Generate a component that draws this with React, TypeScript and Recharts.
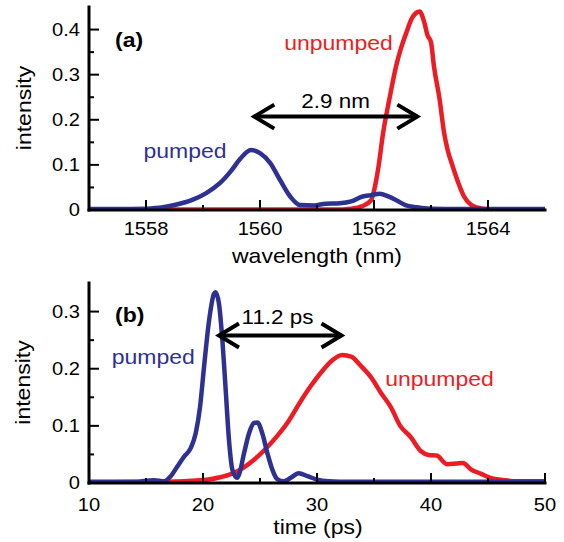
import { LineChart, Line, XAxis, YAxis, ReferenceLine } from "recharts";

const RED = "#ED1C24";
const BLUE = "#2E3192";
const FONT = "'Liberation Sans', Arial, Helvetica, sans-serif";
const SX = 1.15; // the figure's lettering is a wide sans, stretch Arial a bit

// (a) spectra, wavelength in nm
const wlUnpumped = [
    1557, 1561.3, 1561.6, 1561.8, 1561.95, 1562.04, 1562.08, 1562.16, 1562.27,
    1562.39, 1562.47, 1562.57, 1562.66, 1562.74, 1562.8, 1562.88, 1562.94,
    1563.0, 1563.05, 1563.15, 1563.23, 1563.29, 1563.38, 1563.48, 1563.58,
    1563.71, 1563.9, 1564.2, 1565,
];
const specUnpumped = [
    0.001, 0.001, 0.003, 0.009, 0.022, 0.067, 0.097, 0.171, 0.246, 0.32, 0.357,
    0.394, 0.424, 0.437, 0.44, 0.417, 0.387, 0.372, 0.32, 0.246, 0.171, 0.134,
    0.097, 0.06, 0.03, 0.011, 0.003, 0.001, 0.001,
];
const wlPumped = [
    1557, 1557.5, 1558, 1558.3, 1558.5, 1558.8, 1559.05, 1559.3, 1559.5,
    1559.65, 1559.84, 1560.0, 1560.18, 1560.35, 1560.53, 1560.7, 1560.95,
    1561.15, 1561.4, 1561.6, 1561.8, 1561.95, 1562.1, 1562.25, 1562.4, 1562.55,
    1562.75, 1563.0, 1563.5, 1564, 1565,
];
const specPumped = [
    0.002, 0.002, 0.003, 0.006, 0.011, 0.022, 0.037, 0.06, 0.088, 0.113, 0.133,
    0.126, 0.104, 0.067, 0.03, 0.011, 0.01, 0.014, 0.015, 0.019, 0.03, 0.033,
    0.036, 0.03, 0.021, 0.011, 0.006, 0.003, 0.002, 0.002, 0.002,
];

// (b) temporal profiles, time in ps
const tUnpumped = [
    10, 16, 19, 20.5, 21.5, 22.5, 23.5, 24.5, 25.5, 26.5, 27.5, 28.5, 29.5,
    30.5, 31.3, 32.2, 33.0, 33.8, 34.7, 35.6, 36.5, 37.3, 38.2, 39.1, 39.8,
    40.5, 41.4, 42.2, 42.8, 43.5, 44.4, 45.2, 46.4, 47.5, 50,
];
const pulseUnpumped = [
    0.001, 0.002, 0.004, 0.006, 0.01, 0.016, 0.026, 0.041, 0.06, 0.082, 0.108,
    0.141, 0.171, 0.197, 0.214, 0.224, 0.221, 0.206, 0.186, 0.158, 0.132, 0.1,
    0.081, 0.056, 0.049, 0.048, 0.033, 0.034, 0.035, 0.024, 0.016, 0.009,
    0.005, 0.003, 0.003,
];
const tPumped = [
    10, 14, 15.7, 16.6, 17.17, 17.75, 18.33, 18.92, 19.36, 19.74, 20.09, 20.53,
    20.96, 21.1, 21.4, 21.7, 21.99, 22.28, 22.58, 23.0, 23.2, 23.6, 24.04,
    24.47, 24.77, 25.2, 25.65, 26.09, 26.5, 27.1, 27.7, 28.4, 29.16, 30.0, 31,
    33, 40, 50,
];
const pulsePumped = [
    0.002, 0.002, 0.005, 0.003, 0.012, 0.029, 0.046, 0.061, 0.087, 0.133,
    0.203, 0.284, 0.331, 0.334, 0.314, 0.25, 0.163, 0.075, 0.023, 0.009, 0.017,
    0.052, 0.087, 0.105, 0.106, 0.087, 0.052, 0.023, 0.007, 0.003, 0.009,
    0.017, 0.012, 0.006, 0.003, 0.002, 0.002, 0.002,
];

// tick marks
const wlMajor = [1558, 1560, 1562, 1564];
const wlMinor = [1559, 1561, 1563];
const specMajor = [0, 0.1, 0.2, 0.3, 0.4];
const specMinor = [0.05, 0.15, 0.25, 0.35];
const tMajor = [10, 20, 30, 40, 50];
const tMinor = [15, 25, 35, 45];
const pulseMajor = [0, 0.1, 0.2, 0.3];
const pulseMinor = [0.05, 0.15, 0.25];

// shift arrows: [from, to, level]
const shiftA = [1559.9, 1562.76, 0.207];
const shiftB = [21.4, 32.15, 0.258];

const toRows = (xs: number[], ys: number[]) =>
    xs.map((x, i) => ({ x, y: ys[i] }));

type Side = "left" | "right" | "top" | "bottom";

const isIn = (list: number[], v: number) =>
    list.some((m) => Math.abs(m - v) < 1e-9);

const fmt = (v: number) => (v === 0 ? "0" : String(v));

// text, stretched horizontally around its anchor
const Txt = ({
    x,
    y,
    size,
    anchor = "start",
    weight,
    fill = "#000",
    rotate = 0,
    dy,
    children,
}: any) => (
    <text
        transform={`translate(${x} ${y}) rotate(${rotate}) scale(${SX} 1)`}
        dy={dy}
        fontSize={size}
        fontFamily={FONT}
        fontWeight={weight}
        fill={fill}
        textAnchor={anchor}
    >
        {children}
    </text>
);

// inward ticks, labels only on left / bottom
const frameTick =
    (side: Side, major: number[], gap = 0) =>
    (props: any) => {
        const { x, y, payload } = props;
        const v = payload.value as number;
        const big = isIn(major, v);
        const len = big ? 10 : 5;
        let x2 = x;
        let y2 = y;
        if (side === "left") x2 = x + len;
        if (side === "right") x2 = x - len;
        if (side === "top") y2 = y + len;
        if (side === "bottom") y2 = y - len;
        return (
            <g>
                <line x1={x} y1={y} x2={x2} y2={y2} stroke="#000" strokeWidth={2} />
                {big && side === "left" && (
                    <Txt x={x - 9} y={y} dy="0.36em" size={17.5} anchor="end">
                        {fmt(v)}
                    </Txt>
                )}
                {big && side === "bottom" && (
                    <Txt x={x} y={y + gap} size={17.5} anchor="middle">
                        {fmt(v)}
                    </Txt>
                )}
            </g>
        );
    };

const arrowShape = (props: any) => {
    const { x1, y1, x2, y2 } = props;
    const head = 20;
    const half = 12;
    return (
        <g stroke="#000" strokeWidth={4} fill="none">
            <line x1={x1} y1={y1} x2={x2} y2={y2} />
            <polyline points={`${x1 + head},${y1 - half} ${x1},${y1} ${x1 + head},${y1 + half}`} />
            <polyline points={`${x2 - head},${y2 - half} ${x2},${y2} ${x2 - head},${y2 + half}`} />
        </g>
    );
};

const frameLine = { stroke: "#000", strokeWidth: 3, strokeLinecap: "square" as const };

interface PanelProps {
    height: number;
    top: number;
    xDomain: [number, number];
    yDomain: [number, number];
    xMajor: number[];
    xMinor: number[];
    yMajor: number[];
    yMinor: number[];
    labelGap: number;
    xAxisHeight: number;
    red: { x: number; y: number }[];
    blue: { x: number; y: number }[];
    arrow: number[];
}

const Panel = (p: PanelProps) => {
    const xt = [...p.xMinor, ...p.xMajor];
    const yt = [...p.yMinor, ...p.yMajor];
    return (
        <LineChart width={564} height={p.height} margin={{ top: p.top, right: 19, bottom: 0, left: 0 }}>
            <XAxis
                xAxisId="b"
                type="number"
                dataKey="x"
                domain={p.xDomain}
                allowDataOverflow
                ticks={xt}
                interval={0}
                height={p.xAxisHeight}
                tickSize={0}
                tickMargin={0}
                tickLine={false}
                axisLine={frameLine}
                tick={frameTick("bottom", p.xMajor, p.labelGap)}
            />
            <XAxis
                xAxisId="t"
                orientation="top"
                type="number"
                dataKey="x"
                domain={p.xDomain}
                allowDataOverflow
                ticks={xt}
                interval={0}
                height={0}
                tickSize={0}
                tickMargin={0}
                tickLine={false}
                axisLine={frameLine}
                tick={frameTick("top", p.xMajor)}
            />
            <YAxis
                yAxisId="l"
                type="number"
                domain={p.yDomain}
                allowDataOverflow
                ticks={yt}
                interval={0}
                width={89}
                tickSize={0}
                tickMargin={0}
                tickLine={false}
                axisLine={frameLine}
                tick={frameTick("left", p.yMajor)}
            />
            <YAxis
                yAxisId="r"
                orientation="right"
                type="number"
                domain={p.yDomain}
                allowDataOverflow
                ticks={yt}
                interval={0}
                width={0}
                tickSize={0}
                tickMargin={0}
                tickLine={false}
                axisLine={frameLine}
                tick={frameTick("right", p.yMajor)}
            />
            <Line
                xAxisId="b"
                yAxisId="l"
                data={p.red}
                dataKey="y"
                type="monotone"
                stroke={RED}
                strokeWidth={4.5}
                strokeLinejoin="round"
                dot={false}
                isAnimationActive={false}
            />
            <Line
                xAxisId="b"
                yAxisId="l"
                data={p.blue}
                dataKey="y"
                type="monotone"
                stroke={BLUE}
                strokeWidth={4.5}
                strokeLinejoin="round"
                dot={false}
                isAnimationActive={false}
            />
            <ReferenceLine
                xAxisId="b"
                yAxisId="l"
                segment={[
                    { x: p.arrow[0], y: p.arrow[2] },
                    { x: p.arrow[1], y: p.arrow[2] },
                ]}
                shape={arrowShape}
            />
        </LineChart>
    );
};

export default function App() {
    return (
        <div style={{ position: "absolute", left: 0, top: 0, width: 564, height: 542, background: "#fff" }}>
            <div style={{ position: "absolute", left: 0, top: 0 }}>
                <Panel
                    height={270}
                    top={7}
                    xDomain={[1557, 1565]}
                    yDomain={[0, 0.45]}
                    xMajor={wlMajor}
                    xMinor={wlMinor}
                    yMajor={specMajor}
                    yMinor={specMinor}
                    labelGap={25}
                    xAxisHeight={60}
                    red={toRows(wlUnpumped, specUnpumped)}
                    blue={toRows(wlPumped, specPumped)}
                    arrow={shiftA}
                />
            </div>
            <div style={{ position: "absolute", left: 0, top: 270 }}>
                <Panel
                    height={272}
                    top={13}
                    xDomain={[10, 50]}
                    yDomain={[0, 0.35]}
                    xMajor={tMajor}
                    xMinor={tMinor}
                    yMajor={pulseMajor}
                    yMinor={pulseMinor}
                    labelGap={28}
                    xAxisHeight={59}
                    red={toRows(tUnpumped, pulseUnpumped)}
                    blue={toRows(tPumped, pulsePumped)}
                    arrow={shiftB}
                />
            </div>
            <svg
                width={564}
                height={542}
                style={{ position: "absolute", left: 0, top: 0, pointerEvents: "none" }}
            >
                {/* panel (a) */}
                <Txt x={31} y={108} size={20} anchor="middle" rotate={-90}>
                    intensity
                </Txt>
                <Txt x={317} y={262.5} size={20} anchor="middle">
                    wavelength (nm)
                </Txt>
                <Txt x={115} y={46.5} size={20} weight="bold">
                    (a)
                </Txt>
                <Txt x={338.5} y={50} size={20} anchor="middle" fill={RED}>
                    unpumped
                </Txt>
                <Txt x={185} y={158.3} size={20} anchor="middle" fill={BLUE}>
                    pumped
                </Txt>
                <Txt x={335.6} y={108.3} size={19.5} anchor="middle">
                    2.9 nm
                </Txt>

                {/* panel (b) */}
                <Txt x={30} y={382.5} size={20} anchor="middle" rotate={-90}>
                    intensity
                </Txt>
                <Txt x={318} y={534} size={20} anchor="middle">
                    time (ps)
                </Txt>
                <Txt x={115} y={322.3} size={20} weight="bold">
                    (b)
                </Txt>
                <Txt x={277.5} y={324} size={19.5} anchor="middle">
                    11.2 ps
                </Txt>
                <Txt x={153.3} y={364} size={20} anchor="middle" fill={BLUE}>
                    pumped
                </Txt>
                <Txt x={439.5} y={386} size={20} anchor="middle" fill={RED}>
                    unpumped
                </Txt>
            </svg>
        </div>
    );
}
